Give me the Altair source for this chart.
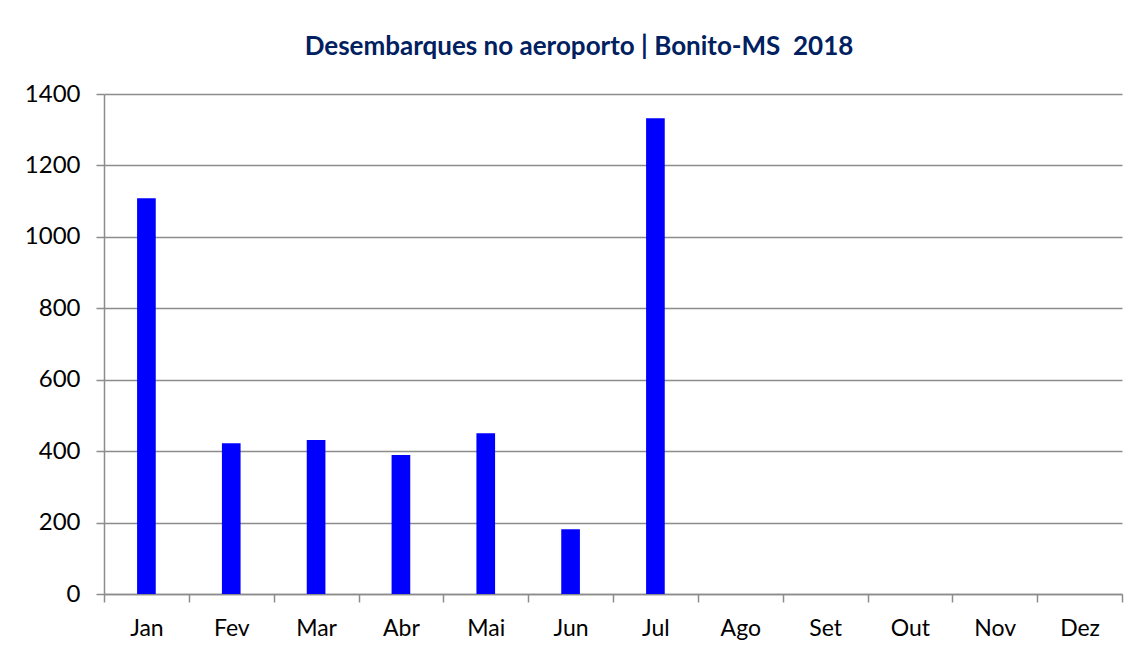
import altair as alt
import pandas as pd

months = ["Jan", "Fev", "Mar", "Abr", "Mai", "Jun", "Jul", "Ago", "Set", "Out", "Nov", "Dez"]
values = [1108, 422, 431, 389, 450, 181, 1332, None, None, None, None, None]
y_ticks = [0, 200, 400, 600, 800, 1000, 1200, 1400]
title_text = "Desembarques no aeroporto | Bonito-MS \u00a02018"

df = pd.DataFrame({"mes": months, "desembarques": values})

grid_color = "#8C8C8C"
font = "Lato"

chart = alt.Chart(df).mark_bar(
    color="#0000FF", width=alt.RelativeBandSize(0.22)
).encode(
    x=alt.X(
        "mes:N",
        sort=months,
        scale=alt.Scale(domain=months, paddingInner=0, paddingOuter=0),
        axis=alt.Axis(
            title=None, tickBand="extent", labelAngle=0, labelFont=font,
            labelFontSize=23, labelColor="black", labelPadding=15,
            tickSize=8, tickColor=grid_color, tickWidth=1.5,
            domainColor=grid_color, domainWidth=1.5, grid=False,
        ),
    ),
    y=alt.Y(
        "desembarques:Q",
        scale=alt.Scale(domain=[0, 1400]),
        axis=alt.Axis(
            title=None, values=y_ticks, format="d", labelFont=font,
            labelFontSize=24, labelColor="black", labelPadding=16, tickSize=8,
            tickColor=grid_color, tickWidth=1.5, domainColor=grid_color,
            domainWidth=1.5, grid=True, gridColor=grid_color, gridWidth=1.5,
        ),
    ),
).properties(
    width=1018,
    height=500,
    title=alt.TitleParams(
        text=title_text, font=font, fontSize=26, fontWeight="bold",
        color="#002060", anchor="middle", dx=-34, offset=22,
    ),
    autosize=alt.AutoSizeParams(type="none"),
    padding={"left": 96, "top": 86, "right": 18, "bottom": 54},
).configure_view(strokeWidth=0)

chart.save("out.html", embed_options={"renderer": "svg", "actions": False})
